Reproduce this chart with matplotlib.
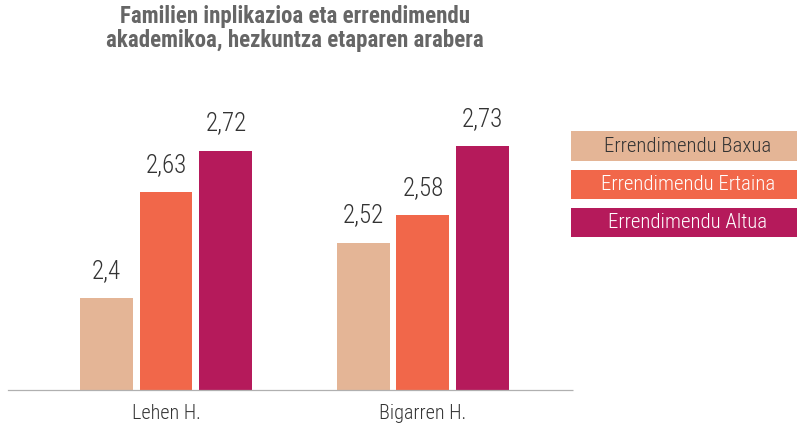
import matplotlib
matplotlib.use("Agg")
import matplotlib.pyplot as plt
from matplotlib import font_manager
from matplotlib.patches import Rectangle

# Data
groups = ["Lehen H.", "Bigarren H."]
series_names = ["Errendimendu Baxua", "Errendimendu Ertaina", "Errendimendu Altua"]
baxua = [2.40, 2.52]
ertaina = [2.63, 2.58]
altua = [2.72, 2.73]
title = "Familien inplikazioa eta errendimendu\nakademikoa, hezkuntza etaparen arabera"

colors = ["#E4B596", "#F1674A", "#B51A5B"]
legend_text_colors = ["#333333", "#FFFFFF", "#FFFFFF"]

available = {f.name for f in font_manager.fontManager.ttflist}
family = "DejaVu Sans"
for cand in ["Roboto Condensed", "Liberation Sans Narrow", "Roboto"]:
    if cand in available:
        family = cand
        break
plt.rcParams["font.family"] = family

W, H = 798, 430
fig = plt.figure(figsize=(W / 100, H / 100), dpi=100)

# Plot area in pixel coordinates
left_px, right_px = 8, 573
base_px, top_px = 390, 100
ax = fig.add_axes([left_px / W, (H - base_px) / H,
                   (right_px - left_px) / W, (base_px - top_px) / H])

ymin, ymax = 2.2, 2.83
ax.set_ylim(ymin, ymax)
ax.set_xlim(-0.615, 1.584)

width = 0.206
offset = 0.233
series = [baxua, ertaina, altua]
for i, vals in enumerate(series):
    xs = [g + (i - 1) * offset for g in range(len(groups))]
    heights = [v - ymin for v in vals]
    ax.bar(xs, heights, width=width, bottom=ymin, color=colors[i], zorder=2)
    for x, v in zip(xs, vals):
        ax.annotate(f"{v:.2f}".rstrip("0").replace(".", ","), (x, v),
                    xytext=(0, 11), textcoords="offset points",
                    ha="center", va="bottom", fontsize=18, fontweight="light",
                    color="#333333")

for side in ["left", "right", "top"]:
    ax.spines[side].set_visible(False)
ax.spines["bottom"].set_color("#b0b0b0")
ax.spines["bottom"].set_linestyle((0, (1.5, 1)))
ax.spines["bottom"].set_linewidth(0.9)
ax.set_yticks([])
ax.set_xticks(range(len(groups)))
ax.set_xticklabels(groups, fontsize=14.5, fontweight="light", color="#333333")
ax.tick_params(axis="x", length=0, pad=10)
ax.patch.set_alpha(0)

# Title
fig.text(295 / W, 1 - 5 / H, title, ha="center", va="top", fontsize=16.5,
         fontweight="bold", color="#666666", linespacing=1.05)

# Legend as coloured boxes with the label inside
box_x0, box_x1 = 571, 797
boxes_y = [(131, 161), (170, 199), (208, 237)]
for name, col, tcol, (y0, y1) in zip(series_names, colors, legend_text_colors, boxes_y):
    fig.patches.append(Rectangle((box_x0 / W, 1 - y1 / H), (box_x1 - box_x0) / W,
                                 (y1 - y0) / H, transform=fig.transFigure,
                                 facecolor=col, edgecolor="none"))
    fig.text(688 / W, 1 - (y0 + y1) / 2 / H, name,
             ha="center", va="center", fontsize=15, fontweight="light", color=tcol)

fig.savefig("out.png", dpi=100)
